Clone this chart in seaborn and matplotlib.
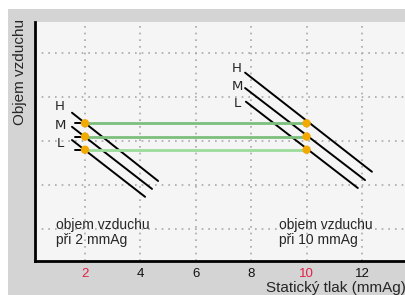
import matplotlib
matplotlib.use("Agg")
import matplotlib.pyplot as plt
import seaborn as sns
import pandas as pd
from matplotlib.patches import Rectangle

# ---- data ----
levels = ["H", "M", "L"]
x_low, x_high = 2, 10
marker_y = [3.4, 3.1, 2.8]          # air volume for H, M, L
# fan curves (start/end points) near 2 mmAg
left_x_start = [1.53, 1.53, 1.53]
left_y_start = [3.64, 3.32, 3.02]
left_x_end = [4.64, 4.42, 4.17]
left_y_end = [2.09, 1.91, 1.73]
# fan curves near 10 mmAg
right_x_start = [7.78, 7.78, 7.81]
right_y_start = [4.55, 4.20, 3.89]
right_x_end = [12.36, 12.11, 11.85]
right_y_end = [2.30, 2.11, 1.93]
# label positions
left_label_x = 1.10
left_label_y = [3.77, 3.34, 2.93]
right_label_x = 7.49
right_label_y = [4.64, 4.23, 3.84]
dash_x_start = 1.64
xticks = [2, 4, 6, 8, 10, 12]
red_ticks = [2, 10]
grid_y = [1, 2, 3, 4, 5]

sns.set_style("white")
plt.rcParams["font.family"] = ["Liberation Sans", "DejaVu Sans"]

fig = plt.figure(figsize=(4.06, 2.95), dpi=100, facecolor="white")
bg = Rectangle((8 / 406, 0), 1, (295 - 9) / 295, transform=fig.transFigure,
               facecolor="#d4d4d4", edgecolor="none", zorder=-10)
fig.add_artist(bg)
ax = fig.add_axes([35 / 406, 34 / 295, 1 - 35 / 406, (261 - 22) / 295])
ax.set_facecolor("#f5f5f5")

# black fan curves
rows = []
for i in range(3):
    rows.append({"x": left_x_start[i], "y": left_y_start[i], "seg": f"l{i}"})
    rows.append({"x": left_x_end[i], "y": left_y_end[i], "seg": f"l{i}"})
    rows.append({"x": right_x_start[i], "y": right_y_start[i], "seg": f"r{i}"})
    rows.append({"x": right_x_end[i], "y": right_y_end[i], "seg": f"r{i}"})
    rows.append({"x": dash_x_start, "y": marker_y[i], "seg": f"d{i}"})
    rows.append({"x": x_low, "y": marker_y[i], "seg": f"d{i}"})
curves = pd.DataFrame(rows)
sns.lineplot(data=curves, x="x", y="y", units="seg", estimator=None, sort=False,
             color="black", lw=1.4, ax=ax, zorder=3)

# green volume lines
green_cols = ["#7cbf7c", "#7cbf7c", "#9cdc9c"]
for i in range(3):
    g = pd.DataFrame({"x": [x_low, x_high], "y": [marker_y[i], marker_y[i]]})
    sns.lineplot(data=g, x="x", y="y", color=green_cols[i], lw=2, ax=ax, zorder=4)

# markers
pts = pd.DataFrame({"x": [x_low] * 3 + [x_high] * 3, "y": marker_y * 2})
sns.scatterplot(data=pts, x="x", y="y", color="#f2a900", s=36, edgecolor="none", ax=ax, zorder=5)

# labels H M L
for i, lev in enumerate(levels):
    ax.text(left_label_x, left_label_y[i], lev, fontsize=9.5, ha="center", va="center",
            family="DejaVu Sans")
    ax.text(right_label_x, right_label_y[i], lev, fontsize=9.5, ha="center", va="center",
            family="DejaVu Sans")

ax.text(0.95, 0.93, "objem vzduchu\npři 2 mmAg", fontsize=10, ha="left", va="center",
        linespacing=1.1)
ax.text(9.0, 0.93, "objem vzduchu\npři 10 mmAg", fontsize=10, ha="left", va="center",
        linespacing=1.1)

ax.set_xlim(0.195, 13.59)
ax.set_ylim(0.273, 5.70)
ax.set_xticks(xticks)
ax.set_xticklabels([str(t) for t in xticks], fontsize=9.5)
for lab, t in zip(ax.get_xticklabels(), xticks):
    lab.set_color("#e0204a" if t in red_ticks else "#111111")
ax.set_yticks(grid_y)
ax.set_yticklabels([])
ax.tick_params(length=0, pad=5)
ax.grid(True, color="#a8a8a8", linestyle=(0, (1, 3)), lw=1.2)
ax.set_axisbelow(True)
for s in ["top", "right"]:
    ax.spines[s].set_visible(False)
for s in ["left", "bottom"]:
    ax.spines[s].set_color("black")
    ax.spines[s].set_linewidth(2)

ax.set_xlabel("")
ax.set_ylabel("")
fig.text(1.0, 7 / 295, "Statický tlak (mmAg)", fontsize=11, ha="right", va="center")
fig.text(20 / 406, 1 - 72 / 295, "Objem vzduchu", fontsize=11, ha="center", va="center",
         rotation=90)

fig.savefig("out.png", dpi=100, facecolor="white")
